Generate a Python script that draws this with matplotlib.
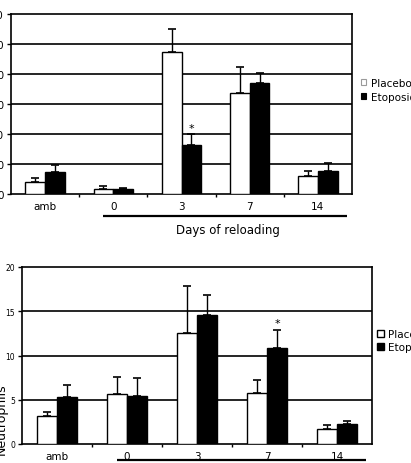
import numpy as np
import matplotlib
matplotlib.use('Agg')
import matplotlib.pyplot as plt
import matplotlib.transforms as mtrans
from matplotlib.patches import Patch

groups = ['amb', '0', '3', '7', '14']
series = ['Placebo', 'Etoposide']

top_placebo = [8.2, 3.6, 95.0, 67.6, 11.7]
top_placebo_err = [2.2, 1.7, 15.0, 17.4, 3.9]
top_etoposide = [14.4, 3.6, 33.0, 73.7, 15.2]
top_etoposide_err = [4.9, 0.4, 7.0, 7.0, 5.3]
top_yticks = [0, 20, 40, 60, 80, 100, 120]
top_star = 2

bot_placebo = [3.2, 5.6, 12.5, 5.75, 1.7]
bot_placebo_err = [0.4, 2.0, 5.3, 1.5, 0.5]
bot_etoposide = [5.3, 5.4, 14.6, 10.9, 2.3]
bot_etoposide_err = [1.4, 2.1, 2.2, 2.0, 0.3]
bot_yticks = [0, 5, 10, 15, 20]
bot_star = 3

xlabel = 'Days of reloading'
bot_ylabel = 'Neutrophils'

W, H = 411, 464
fig = plt.figure(figsize=(W / 100, H / 100), dpi=100)
fig.patch.set_facecolor('white')


def px_axes(l, t, r, b):
    return fig.add_axes([l / W, 1 - b / H, (r - l) / W, (b - t) / H])


def draw(ax, p, pe, e, ee, yticks, ytick_fs, star_idx, ul_y, show_xlabel):
    n = len(groups)
    x = np.arange(n)
    bw = 0.29
    ax.set_xlim(-0.5, n - 0.5)
    ax.set_ylim(yticks[0], yticks[-1])
    for yv in yticks[1:-1]:
        ax.axhline(yv, color='black', lw=1.2, zorder=1)
    ax.bar(x - bw / 2, p, bw, color='white', edgecolor='black', lw=1.0, zorder=3)
    ax.bar(x + bw / 2, e, bw, color='black', edgecolor='black', lw=1.0, zorder=3)
    ax.errorbar(x - bw / 2, p, yerr=[np.zeros(n), pe], fmt='none', ecolor='black',
                elinewidth=1.0, capsize=3, capthick=1.2, zorder=2)
    ax.errorbar(x + bw / 2, e, yerr=[np.zeros(n), ee], fmt='none', ecolor='black',
                elinewidth=1.0, capsize=3, capthick=1.2, zorder=2)
    ax.annotate('*', (x[star_idx] + bw / 2, e[star_idx] + ee[star_idx]),
                xytext=(0, 1), textcoords='offset points', ha='center', va='bottom',
                fontsize=8, color='black')
    ax.set_yticks(yticks)
    ax.set_yticklabels([str(v) for v in yticks], fontsize=ytick_fs)
    ax.tick_params(axis='y', direction='out', length=3, width=1, pad=2)
    ax.set_xticks(x)
    ax.set_xticklabels(groups, fontsize=7.5)
    ax.tick_params(axis='x', which='major', length=0, pad=5)
    ax.set_xticks(np.arange(n - 1) + 0.5, minor=True)
    ax.tick_params(axis='x', which='minor', direction='out', length=2.5, width=1)
    for s in ax.spines.values():
        s.set_linewidth(1.2)
        s.set_color('black')
    tr = mtrans.blended_transform_factory(ax.transData, ax.transAxes)
    ax.plot([0.85, 4.42], [ul_y, ul_y], transform=tr, color='black', lw=1.6,
            clip_on=False, solid_capstyle='butt')
    if show_xlabel:
        ax.text(2.68, ul_y - 0.075, xlabel, transform=tr, ha='center', va='center',
                fontsize=8.5)


ax1 = px_axes(11, 15, 352, 195)
draw(ax1, top_placebo, top_placebo_err, top_etoposide, top_etoposide_err,
     top_yticks, 7.5, top_star, -0.122, True)
h1 = [Patch(facecolor='white', edgecolor='#9a9a9a', lw=0.8),
      Patch(facecolor='black', edgecolor='black', lw=0.8)]
ax1.legend(h1, series, loc='upper left', bbox_to_anchor=(361 / W, 1 - 79 / H),
           bbox_transform=fig.transFigure, frameon=False, fontsize=7.5,
           handlelength=0.5, handleheight=0.5, handletextpad=0.5,
           borderpad=0, borderaxespad=0, labelspacing=0.35)

ax2 = px_axes(22, 268, 372, 445)
draw(ax2, bot_placebo, bot_placebo_err, bot_etoposide, bot_etoposide_err,
     bot_yticks, 5.5, bot_star, -0.09, False)
h2 = [Patch(facecolor='white', edgecolor='black', lw=1.0),
      Patch(facecolor='black', edgecolor='black', lw=1.0)]
ax2.legend(h2, series, loc='upper left', bbox_to_anchor=(377 / W, 1 - 330 / H),
           bbox_transform=fig.transFigure, frameon=False, fontsize=7.5,
           handlelength=0.65, handleheight=0.65, handletextpad=0.4,
           borderpad=0, borderaxespad=0, labelspacing=0.3)

fig.text(1 / W, 1 - 455 / H, bot_ylabel, rotation=90, ha='center', va='bottom',
         fontsize=9)

fig.savefig('out.png', dpi=100, facecolor='white')
